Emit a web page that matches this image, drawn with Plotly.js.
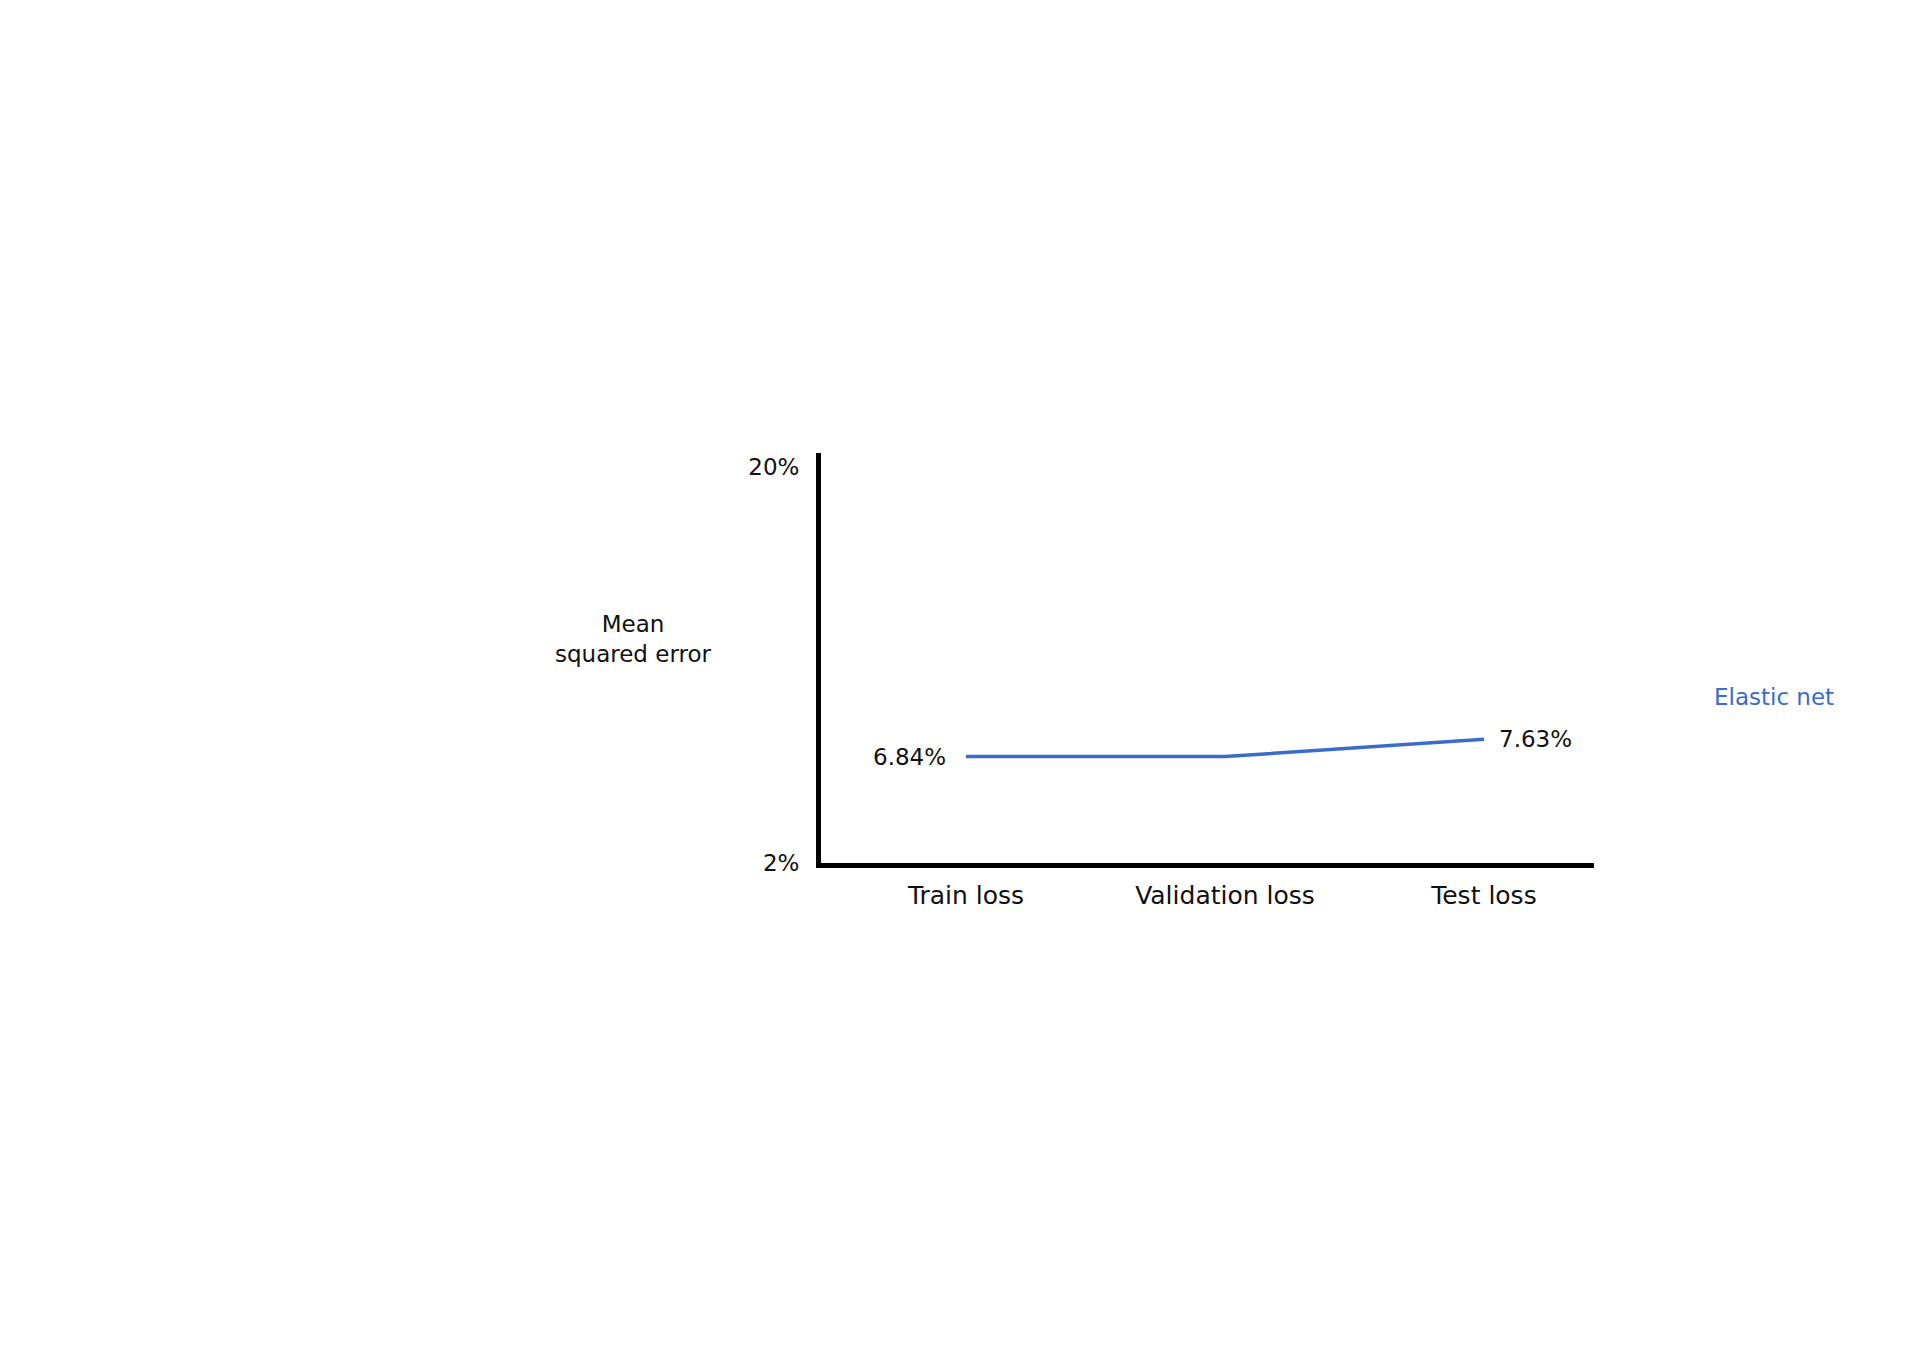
<!DOCTYPE html>
<html>
<head>
<meta charset="utf-8">
<script src="https://cdn.plot.ly/plotly-3.0.1.min.js"></script>
<style>html,body{margin:0;padding:0;background:#fff;}#chart{width:1920px;height:1357px;}</style>
</head>
<body>
<div id="chart"></div>
<script>
const categories = ['Train loss', 'Validation loss', 'Test loss'];
const mseValues = [6.84, 6.84, 7.63];
const labelledPoints = [0, 2];
const yTickVals = [2, 20];
const seriesName = 'Elastic net';
const yTitle = 'Mean<br>squared error';

const blue = '#3a6cca';
const font = 'DejaVu Sans, Verdana, sans-serif';

const trace = {
  x: categories,
  y: mseValues,
  type: 'scatter',
  mode: 'lines',
  name: seriesName,
  line: {color: blue, width: 3.5},
  cliponaxis: false,
  hoverinfo: 'skip'
};

const pointAnnotations = labelledPoints.map((i, k) => ({
  x: categories[i], y: mseValues[i], xref: 'x', yref: 'y',
  text: mseValues[i].toFixed(2) + '%',
  showarrow: false,
  xanchor: k === 0 ? 'right' : 'left',
  yanchor: 'middle',
  xshift: k === 0 ? -18 : 13,
  font: {family: font, size: 23, color: '#111'}
}));

const layout = {
  width: 1920,
  height: 1357,
  paper_bgcolor: '#fff',
  plot_bgcolor: '#fff',
  showlegend: false,
  margin: {l: 821, r: 326, t: 453, b: 494, pad: 0},
  font: {family: font, color: '#111'},
  xaxis: {
    type: 'category',
    range: [-0.56, 2.425],
    showgrid: false,
    zeroline: false,
    showline: true,
    linecolor: '#000',
    linewidth: 5,
    ticks: '',
    ticklabelstandoff: 6,
    tickfont: {family: font, size: 25, color: '#111'},
    fixedrange: true
  },
  yaxis: {
    range: [2, 20.64],
    tickvals: yTickVals,
    ticktext: yTickVals.map(v => v + '%'),
    showgrid: false,
    zeroline: false,
    showline: true,
    linecolor: '#000',
    linewidth: 5,
    ticks: '',
    ticklabelstandoff: 12,
    tickfont: {family: font, size: 23, color: '#111'},
    fixedrange: true
  },
  annotations: [
    {
      text: yTitle, xref: 'paper', yref: 'paper', x: -0.243, y: 0.546,
      xanchor: 'center', yanchor: 'middle', showarrow: false,
      font: {family: font, size: 23, color: '#111'}, align: 'center'
    },
    {
      text: seriesName, xref: 'paper', yref: 'paper', x: 1.233, y: 0.405,
      xanchor: 'center', yanchor: 'middle', showarrow: false,
      font: {family: font, size: 23, color: blue}
    }
  ].concat(pointAnnotations)
};

Plotly.newPlot('chart', [trace], layout, {displayModeBar: false, staticPlot: true});
</script>
</body>
</html>
